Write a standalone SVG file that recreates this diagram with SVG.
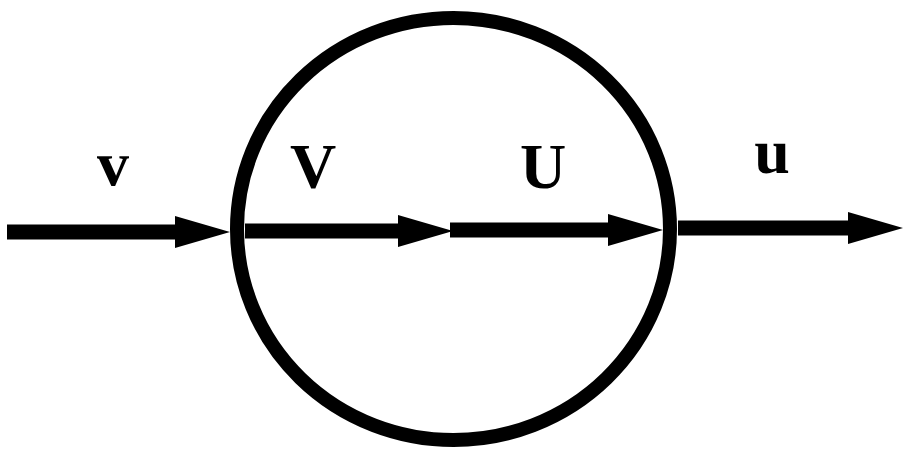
<svg xmlns="http://www.w3.org/2000/svg" width="905" height="449" viewBox="0 0 905 449">
<defs>
<marker id="ah" markerUnits="userSpaceOnUse" markerWidth="60" markerHeight="34" refX="5" refY="16" orient="auto">
<path d="M0,0 L55,16 L0,32 z" fill="#000"/>
</marker>
<style>
.conn{stroke:#000;stroke-width:15;fill:none;marker-end:url(#ah)}
.lbl{font-family:"Liberation Serif","Times New Roman",serif;font-weight:bold;font-size:64px;fill:#000;text-anchor:middle}
</style>
</defs>
<rect width="905" height="449" fill="#fff"/>
<g id="node-circle">
<ellipse cx="453.5" cy="229" rx="216.5" ry="211" fill="none" stroke="#000" stroke-width="14"/>
</g>
<g id="connectors">
<path class="conn" d="M7,232 L180,232"/>
<path class="conn" d="M245,231 L403,231"/>
<path class="conn" d="M450,230 L613,230"/>
<path class="conn" d="M678,228 L853,228"/>
</g>
<g id="labels">
<text class="lbl" x="113" y="185">v</text>
<text class="lbl" x="313" y="188">V</text>
<text class="lbl" x="543" y="188">U</text>
<text class="lbl" x="772" y="173">u</text>
</g>
</svg>
